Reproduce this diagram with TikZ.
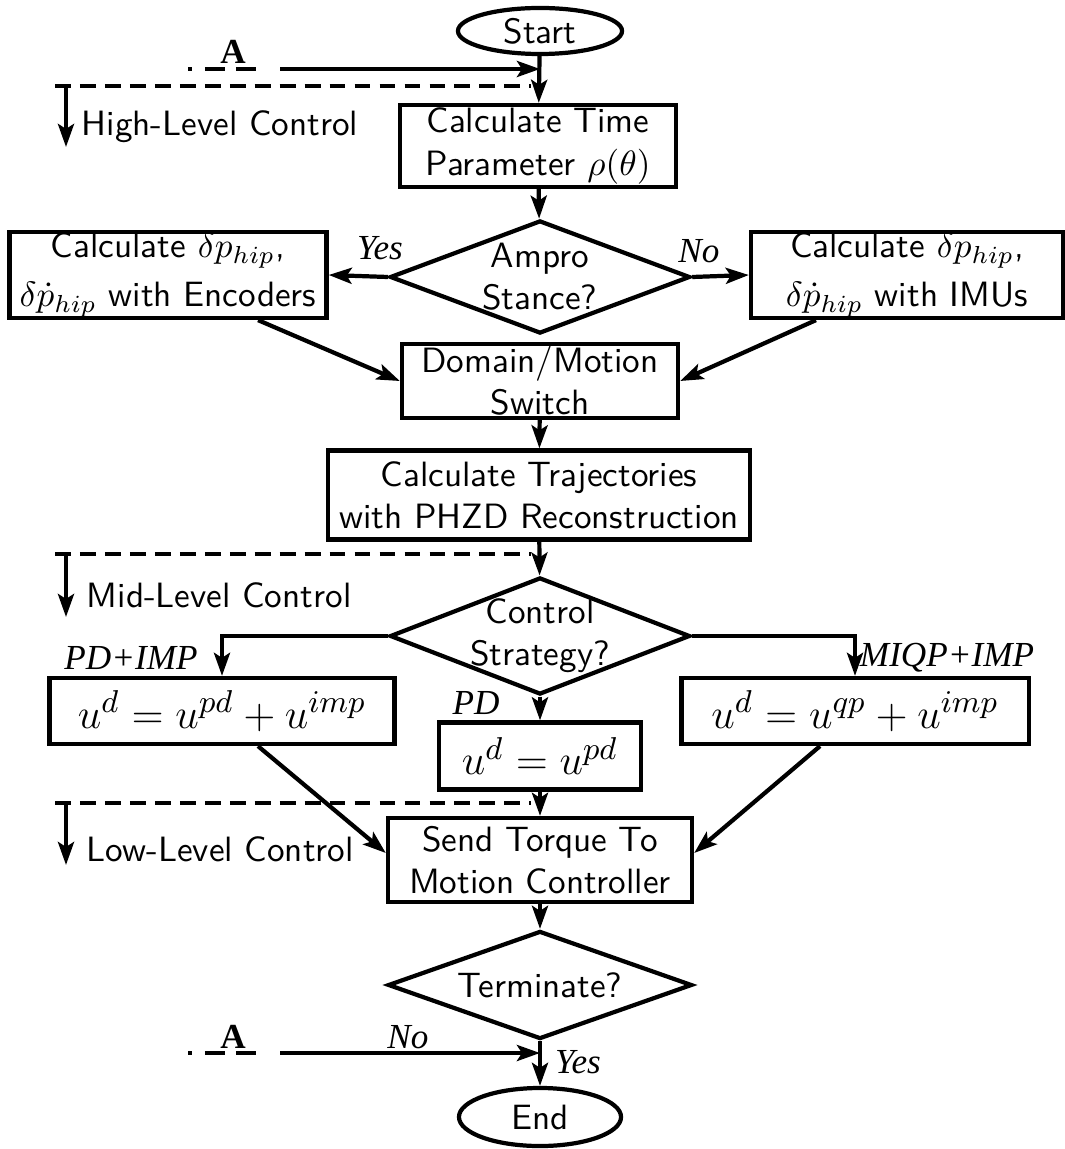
\documentclass[tikz,border=0pt]{standalone}
\usepackage{fontspec}
\usetikzlibrary{shapes.geometric,arrows.meta}
\newfontfamily\tagfont{Liberation Serif}

\tikzset{
  proc/.style={draw, rectangle, align=center, font=\sffamily, inner sep=0pt},
  term/.style={draw, ellipse, font=\sffamily, inner sep=0pt},
  decision/.style={draw, diamond, align=center, font=\sffamily, inner sep=-12pt},
  tag/.style={font=\tagfont\itshape},
  flow/.style={-{Stealth[length=2.3mm,width=1.6mm,inset=0.5mm]}},
  level/.style={dash pattern=on 4.5pt off 2.6pt},
  joint/.style={dash pattern=on 1.2pt off 3.6pt on 5.6pt off 3.2pt on 5.6pt off 40pt}
}

\begin{document}
\begin{tikzpicture}[x=0.01cm, y=-0.01cm, line width=1.2pt]
\useasboundingbox (0,0) rectangle (1065,1149);

% Define the nodes of the flow chart
\node[term, minimum width=1.64cm, minimum height=0.46cm] (start) at (540,31) {Start};
\node[proc, minimum width=2.76cm, minimum height=0.82cm] (time) at (538,146) {Calculate Time\\Parameter $\rho(\theta)$};
\node[decision, minimum width=3cm, minimum height=1.13cm] (stance) at (540,277) {Ampro\\Stance?};
\node[proc, minimum width=3.17cm, minimum height=0.86cm] (enc) at (168,275) {Calculate $\delta p_{hip}$,\\[2pt]$\delta\dot{p}_{hip}$ with Encoders};
\node[proc, minimum width=3.12cm, minimum height=0.86cm] (imu) at (907,275) {Calculate $\delta p_{hip}$,\\[2pt]$\delta\dot{p}_{hip}$ with IMUs};
\node[proc, minimum width=2.76cm, minimum height=0.74cm] (dom) at (540,381) {Domain/Motion\\Switch};
\node[proc, minimum width=4.22cm, minimum height=0.89cm] (traj) at (539,495) {Calculate Trajectories\\with PHZD Reconstruction};
\node[decision, minimum width=3cm, minimum height=1.17cm] (strat) at (540,636) {Control\\Strategy?};
\node[proc, minimum width=3.45cm, minimum height=0.66cm, font=\fontsize{12.8}{15}\selectfont] (pdimp) at (222,711) {$u^d = u^{pd} + u^{imp}$};
\node[proc, minimum width=2.02cm, minimum height=0.67cm, font=\fontsize{12.8}{15}\selectfont] (pd) at (540,756) {$u^d = u^{pd}$};
\node[proc, minimum width=3.47cm, minimum height=0.66cm, font=\fontsize{12.8}{15}\selectfont] (qpimp) at (855,711) {$u^d = u^{qp} + u^{imp}$};
\node[proc, minimum width=3.04cm, minimum height=0.84cm] (send) at (540,860) {Send Torque To\\Motion Controller};
\node[decision, minimum width=3.04cm, minimum height=1.08cm] (stop) at (540,985) {Terminate?};
\node[term, minimum width=1.62cm, minimum height=0.58cm] (end) at (540,1117) {End};

% Loop connector A
\coordinate (topA) at (188,69);
\coordinate (topAend) at (268,69);
\coordinate (topIn) at (280,69);
\coordinate (botA) at (188,1053);
\coordinate (botAend) at (268,1053);
\coordinate (botIn) at (280,1053);

% Level markers
\coordinate (hiL) at (55,86);
\coordinate (hiR) at (531,86);
\coordinate (hiDown) at (66,147);
\coordinate (midL) at (55,554);
\coordinate (midR) at (531,554);
\coordinate (midDown) at (66,617);
\coordinate (loL) at (55,803);
\coordinate (loR) at (531,803);
\coordinate (loDown) at (66,865);

% Draw the main flow
\draw[flow] (start) -- (time);
\draw[flow] (time) -- (stance);
\draw[flow] (stance.west) -- (enc.east);
\draw[flow] (stance.east) -- (imu.west);
\draw[flow] ([xshift=0.9cm]enc.south) -- (dom.west);
\draw[flow] ([xshift=-0.91cm]imu.south) -- (dom.east);
\draw[flow] (dom) -- (traj);
\draw[flow] (traj) -- (strat);
\draw[flow] (strat.west) -| (pdimp.north);
\draw[flow] (strat.east) -| (qpimp.north);
\draw[flow] (strat.south) -- (pd.north);
\draw[flow] (pd) -- (send);
\draw[flow] ([xshift=0.36cm]pdimp.south) -- ([yshift=0.07cm]send.west);
\draw[flow] ([xshift=-0.35cm]qpimp.south) -- ([yshift=0.07cm]send.east);
\draw[flow] (send) -- (stop);
\draw[flow] (stop.south) -- (end);

% Connector A, at the top and at the bottom
\draw[joint] (topA) -- (topAend);
\draw[flow] (topIn) -- (start.south |- topIn);
\draw[joint] (botA) -- (botAend);
\draw[flow] (botIn) -- (stop.south |- botIn);

% Control levels
\draw[level] (hiL) -- (hiR);
\draw[flow] (hiDown |- hiL) -- (hiDown);
\draw[level] (midL) -- (midR);
\draw[flow] (midDown |- midL) -- (midDown);
\draw[level] (loL) -- (loR);
\draw[flow] (loDown |- loL) -- (loDown);

% Labels
\node[font=\sffamily, anchor=west] (hiText) at (68,127) {High-Level Control};
\node[font=\sffamily, anchor=west] (midText) at (73,595) {Mid-Level Control};
\node[font=\sffamily, anchor=west] (loText) at (73,849) {Low-Level Control};
\node[font=\tagfont\bfseries] (topTag) at (233,52) {A};
\node[font=\tagfont\bfseries] (botTag) at (233,1037) {A};
\node[tag] (yesSide) at (380,248) {Yes};
\node[tag] (noSide) at (699,251) {No};
\node[tag] (pdimpTag) at (131,658) {PD+IMP};
\node[tag] (qpimpTag) at (947,658) {MIQP+IMP};
\node[tag] (pdTag) at (476,703) {PD};
\node[tag] (noLoop) at (408,1037) {No};
\node[tag] (yesEnd) at (578,1062) {Yes};

\end{tikzpicture}
\end{document}
